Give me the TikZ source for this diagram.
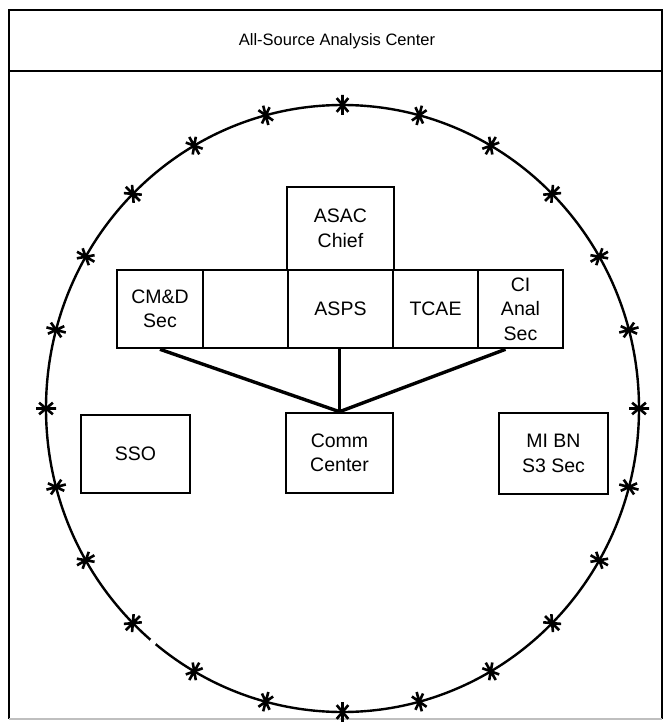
\documentclass[tikz,border=0pt]{standalone}
\usepackage{fontspec}
\setmainfont{Liberation Sans}
\begin{document}
\begin{tikzpicture}[x=1pt,y=-1pt,
  box/.style={draw, line width=2.6pt, inner sep=0pt, align=center, font=\fontsize{19.5}{24.5}\selectfont},
  link/.style={line width=3.4pt},
  fence/.style={line width=2.4pt},
  barb/.style={line width=2.6pt},
  frameline/.style={line width=2.4pt}]
\useasboundingbox (0,0) rectangle (664,722);
% frame
\draw[frameline] (662,719) -- (662,10) -- (9,10) -- (9,719);
\draw[frameline, gray!50] (9,719) -- (662,719);
\draw[frameline] (9,71) -- (662,71);
\node[font=\fontsize{16.5}{20}\selectfont] (title) at (337,41) {All-Source Analysis Center};
% fence circle
\draw[fence] (342.5,408.5) ellipse [x radius=296.5pt, y radius=303.5pt];
\fill[white] (153,642) circle [radius=3.5pt];
\foreach \k in {0,...,23}{
  \pgfmathsetmacro{\a}{15*\k}
  \pgfmathsetmacro{\px}{342.5+296.5*sin(\a)}
  \pgfmathsetmacro{\py}{408.5-303.5*cos(\a)}
  \pgfmathsetmacro{\r}{90-\a}
  \draw[barb, shift={(\px,\py)}, rotate=\r] (-10,0) -- (10,0) (220:9) -- (40:9) (140:9) -- (-40:9);
}
% boxes
\node[box, minimum width=107pt, minimum height=83pt] (chief) at (340.5,228.5) {ASAC\\Chief};
\node[box, minimum width=86pt, minimum height=78pt] (cmd) at (160,309) {CM\&D\\Sec};
\node[box, minimum width=85pt, minimum height=78pt] (blank) at (245.5,309) {};
\node[box, minimum width=105pt, minimum height=78pt] (asps) at (340.5,309) {ASPS};
\node[box, minimum width=85pt, minimum height=78pt] (tcae) at (435.5,309) {TCAE};
\node[box, minimum width=85pt, minimum height=78pt] (ci) at (520.5,309) {CI\\Anal\\Sec};
\node[box, minimum width=109pt, minimum height=78pt] (sso) at (135.5,454) {SSO};
\node[box, minimum width=107pt, minimum height=80pt] (comm) at (339.5,453) {Comm\\Center};
\node[box, minimum width=109pt, minimum height=81pt] (mibn) at (553.5,453.5) {MI BN\\S3 Sec};
% connectors
\draw[link] (cmd.south) -- (comm.north);
\draw[link] (asps.south -| comm.north) -- (comm.north);
\draw[link] ([xshift=-15pt]ci.south) -- (comm.north);
\end{tikzpicture}
\end{document}
